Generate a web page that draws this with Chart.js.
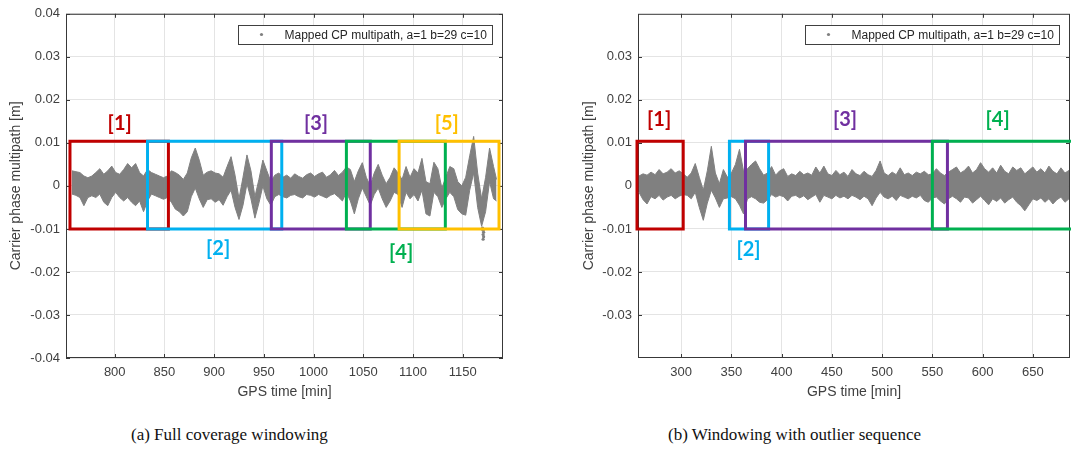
<!DOCTYPE html>
<html>
<head>
<meta charset="utf-8">
<script src="https://cdn.jsdelivr.net/npm/chart.js@4.4.1/dist/chart.umd.min.js"></script>
<style>
  html, body { margin: 0; padding: 0; background: #fff; overflow: hidden; }
  body { width: 1071px; height: 456px; position: relative; }
  canvas { position: absolute; top: 0; }
  #chartA { left: 0; }
  #chartB { left: 540px; }
  .caption {
    position: absolute; top: 425px; white-space: nowrap; color: #111;
    font-family: 'Liberation Serif', 'DejaVu Serif', serif; font-size: 17px;
  }
</style>
</head>
<body>
<canvas id="chartA" width="520" height="410"></canvas>
<canvas id="chartB" width="531" height="410"></canvas>
<div class="caption" style="left:131px">(a) Full coverage windowing</div>
<div class="caption" style="left:668px">(b) Windowing with outlier sequence</div>
<script>
// ---------------------------
// Data (metres / minutes)
// The multipath cloud is kept as its upper and lower edge per sample time.
// ---------------------------

// (a) Full coverage windowing
const timesA = [
  757, 761, 765, 769, 773, 777, 781, 785, 789, 793,
  797, 801, 805, 809, 813, 817, 821, 825, 829, 833,
  837, 841, 845, 849, 853, 857, 861, 865, 869, 873,
  877, 881, 885, 889, 893, 897, 901, 905, 909, 913,
  917, 921, 925, 929, 933, 937, 941, 945, 949, 953,
  957, 961, 965, 969, 973, 977, 981, 985, 989, 993,
  997, 1001, 1005, 1009, 1013, 1017, 1021, 1025, 1029, 1033,
  1037, 1041, 1045, 1049, 1053, 1057, 1061, 1065, 1069, 1073,
  1077, 1081, 1085, 1089, 1093, 1097, 1101, 1105, 1109, 1113,
  1117, 1121, 1125, 1129, 1133, 1137, 1141, 1145, 1149, 1153,
  1157, 1161, 1165, 1169, 1173, 1177, 1181, 1184
];
const upperA = [
  0.0035, 0.0033, 0.0031, 0.0023, 0.0019, 0.0023, 0.0031, 0.0040, 0.0027, 0.0035,
  0.0046, 0.0031, 0.0027, 0.0038, 0.0052, 0.0042, 0.0052, 0.0031, 0.0023, 0.0038,
  0.0031, 0.0027, 0.0023, 0.0019, 0.0023, 0.0035, 0.0031, 0.0025, 0.0015, 0.0030,
  0.0065, 0.0088, 0.0060, 0.0025, 0.0032, 0.0035, 0.0030, 0.0028, 0.0020, 0.0045,
  0.0068, 0.0025, -0.0030, 0.0020, 0.0072, 0.0035, -0.0025, 0.0015, 0.0060, 0.0035,
  0.0010, 0.0025, 0.0030, 0.0020, 0.0025, 0.0018, 0.0028, 0.0022, 0.0018, 0.0026,
  0.0030, 0.0022, 0.0028, 0.0032, 0.0020, 0.0026, 0.0036, 0.0024, 0.0032, 0.0044,
  0.0038, 0.0010, 0.0035, 0.0054, 0.0020, 0.0000, 0.0030, 0.0050, 0.0025, 0.0005,
  0.0020, 0.0042, 0.0030, 0.0015, 0.0045, 0.0020, 0.0040, 0.0030, 0.0064, 0.0010,
  0.0005, 0.0055, 0.0040, -0.0005, 0.0020, 0.0045, 0.0040, 0.0010, 0.0000, 0.0020,
  0.0070, 0.0115, 0.0030, -0.0030, 0.0020, 0.0088, 0.0045, 0.0015
];
const lowerA = [
  -0.0019, -0.0022, -0.0027, -0.0046, -0.0027, -0.0023, -0.0027, -0.0019, -0.0038, -0.0046,
  -0.0027, -0.0015, -0.0027, -0.0035, -0.0027, -0.0038, -0.0046, -0.0035, -0.0060, -0.0035,
  -0.0019, -0.0023, -0.0027, -0.0031, -0.0027, -0.0038, -0.0054, -0.0060, -0.0070, -0.0060,
  -0.0025, -0.0005, -0.0030, -0.0050, -0.0032, -0.0030, -0.0038, -0.0032, -0.0045, -0.0025,
  -0.0010, -0.0050, -0.0078, -0.0045, 0.0005, -0.0030, -0.0075, -0.0040, 0.0000, -0.0030,
  -0.0045, -0.0025, -0.0020, -0.0025, -0.0028, -0.0022, -0.0020, -0.0025, -0.0028, -0.0020,
  -0.0022, -0.0026, -0.0020, -0.0024, -0.0028, -0.0022, -0.0018, -0.0026, -0.0035, -0.0015,
  -0.0035, -0.0065, -0.0030, -0.0005, -0.0025, -0.0045, -0.0020, -0.0005, -0.0030, -0.0050,
  -0.0035, -0.0015, -0.0020, -0.0050, -0.0015, -0.0030, -0.0020, -0.0035, -0.0010, -0.0065,
  -0.0070, -0.0015, -0.0025, -0.0050, -0.0030, -0.0015, -0.0025, -0.0055, -0.0065, -0.0068,
  -0.0010, 0.0030, -0.0050, -0.0094, -0.0060, 0.0010, -0.0030, -0.0035
];
// stray points under the cloud near 1170 min
const outlierTimesA = [1170, 1170.5, 1171, 1170.5, 1171, 1170.5];
const outlierValuesA = [-0.0098, -0.0103, -0.0108, -0.0113, -0.0118, -0.0124];

const xTicksA = [800, 850, 900, 950, 1000, 1050, 1100, 1150];
const yTicksA = [-0.04, -0.03, -0.02, -0.01, 0, 0.01, 0.02, 0.03, 0.04];

const winStartA = [755, 833, 957.5, 1033, 1086];
const winEndA = [854, 968, 1057, 1132.5, 1186.5];
const winLabelsA = ['[1]', '[2]', '[3]', '[4]', '[5]'];
const winLabelXA = [805, 904, 1002.5, 1088, 1134];
const winLabelYA = [0.0146, -0.0146, 0.0146, -0.0155, 0.0146];

// (b) Windowing with outlier sequence
const timesB = [
  258, 262, 266, 270, 274, 278, 282, 286, 290, 294,
  298, 302, 306, 310, 314, 318, 322, 326, 330, 334,
  338, 342, 346, 350, 354, 358, 362, 366, 370, 374,
  378, 382, 386, 390, 394, 398, 402, 406, 410, 414,
  418, 422, 426, 430, 434, 438, 442, 446, 450, 454,
  458, 462, 466, 470, 474, 478, 482, 486, 490, 494,
  498, 502, 506, 510, 514, 518, 522, 526, 530, 534,
  538, 542, 546, 550, 554, 558, 562, 566, 570, 574,
  578, 582, 586, 590, 594, 598, 602, 606, 610, 614,
  618, 622, 626, 630, 634, 638, 642, 646, 650, 654,
  658, 662, 666, 670, 674, 678, 682, 686
];
const upperB = [
  0.0023, 0.0028, 0.0025, 0.0032, 0.0026, 0.0038, 0.0028, 0.0032, 0.0040, 0.0030,
  0.0035, 0.0028, 0.0020, 0.0030, 0.0052, 0.0020, -0.0010, 0.0035, 0.0092, 0.0030,
  0.0005, 0.0038, 0.0020, 0.0030, 0.0050, 0.0085, 0.0035, 0.0040, 0.0050, 0.0058,
  0.0040, 0.0025, 0.0030, 0.0045, 0.0025, 0.0035, 0.0040, 0.0022, 0.0028, 0.0024,
  0.0034, 0.0026, 0.0030, 0.0025, 0.0044, 0.0030, 0.0046, 0.0028, 0.0024, 0.0036,
  0.0026, 0.0032, 0.0022, 0.0038, 0.0028, 0.0024, 0.0034, 0.0026, 0.0022, 0.0036,
  0.0058, 0.0030, 0.0024, 0.0032, 0.0026, 0.0042, 0.0026, 0.0030, 0.0024, 0.0032,
  0.0028, 0.0034, 0.0026, 0.0028, 0.0040, 0.0030, 0.0024, 0.0032, 0.0038, 0.0044,
  0.0030, 0.0036, 0.0046, 0.0030, 0.0038, 0.0054, 0.0040, 0.0032, 0.0042, 0.0030,
  0.0048, 0.0034, 0.0028, 0.0044, 0.0036, 0.0042, 0.0028, 0.0036, 0.0044, 0.0032,
  0.0040, 0.0030, 0.0046, 0.0034, 0.0028, 0.0042, 0.0030, 0.0036
];
const lowerB = [
  -0.0015, -0.0032, -0.0042, -0.0025, -0.0030, -0.0022, -0.0033, -0.0026, -0.0022, -0.0030,
  -0.0024, -0.0020, -0.0022, -0.0030, -0.0015, -0.0050, -0.0080, -0.0040, -0.0010, -0.0028,
  -0.0050, -0.0030, -0.0028, -0.0025, -0.0030, -0.0045, -0.0065, -0.0030, -0.0025, -0.0030,
  -0.0038, -0.0040, -0.0032, -0.0020, -0.0026, -0.0022, -0.0025, -0.0035, -0.0024, -0.0022,
  -0.0028, -0.0023, -0.0032, -0.0026, -0.0020, -0.0038, -0.0022, -0.0026, -0.0030, -0.0022,
  -0.0028, -0.0024, -0.0030, -0.0022, -0.0026, -0.0032, -0.0024, -0.0030, -0.0046, -0.0028,
  -0.0015, -0.0026, -0.0030, -0.0024, -0.0034, -0.0022, -0.0026, -0.0030, -0.0024, -0.0028,
  -0.0022, -0.0034, -0.0038, -0.0028, -0.0026, -0.0035, -0.0042, -0.0030, -0.0024, -0.0030,
  -0.0038, -0.0026, -0.0028, -0.0040, -0.0032, -0.0024, -0.0034, -0.0044, -0.0030, -0.0036,
  -0.0028, -0.0040, -0.0032, -0.0026, -0.0038, -0.0046, -0.0058, -0.0044, -0.0030, -0.0034,
  -0.0028, -0.0038, -0.0030, -0.0042, -0.0032, -0.0026, -0.0038, -0.0030
];

const xTicksB = [300, 350, 400, 450, 500, 550, 600, 650];
const yTicksB = [-0.03, -0.02, -0.01, 0, 0.01, 0.02, 0.03];

const winStartB = [256, 348, 364, 550];
const winEndB = [302, 387, 565, 720];
const winLabelsB = ['[1]', '[2]', '[3]', '[4]'];
const winLabelXB = [278, 367, 463, 615];
const winLabelYB = [0.0155, -0.0148, 0.0155, 0.0155];

// shared window look
const winColors = ['#c00000', '#00b0f0', '#7030a0', '#00b050', '#ffc000'];
const boxLow = -0.0100;
const boxHigh = 0.0104;
const legendText = 'Mapped CP multipath, a=1 b=29 c=10';

// ---------------------------
// Styling
// ---------------------------
const sansFont = "'Liberation Sans', Arial, sans-serif";
const textColor = '#404040';
const gridColor = '#e4e4e4';
const cloudColor = '#808080';

// axes box with inward tick marks, like the MATLAB original
const framePlugin = {
  id: 'frame',
  beforeDatasetsDraw(chart) {
    const { ctx, chartArea: a, scales: { x, y } } = chart;
    ctx.save();
    ctx.strokeStyle = '#383838';
    ctx.lineWidth = 1;
    ctx.strokeRect(a.left + 0.5, a.top + 0.5, a.width - 1, a.height - 1);
    ctx.beginPath();
    x.ticks.forEach(t => {
      const px = Math.round(x.getPixelForValue(t.value)) + 0.5;
      ctx.moveTo(px, a.bottom); ctx.lineTo(px, a.bottom - 4);
      ctx.moveTo(px, a.top); ctx.lineTo(px, a.top + 4);
    });
    y.ticks.forEach(t => {
      const py = Math.round(y.getPixelForValue(t.value)) + 0.5;
      ctx.moveTo(a.left, py); ctx.lineTo(a.left + 4, py);
      ctx.moveTo(a.right, py); ctx.lineTo(a.right - 4, py);
    });
    ctx.stroke();
    ctx.restore();
  }
};

// window numbers and the boxed legend
const annotatePlugin = {
  id: 'annotate',
  afterDatasetsDraw(chart, args, opts) {
    const { ctx, chartArea: a, scales: { x, y } } = chart;
    ctx.save();
    ctx.font = "bold 20px Lato, 'Open Sans', sans-serif";
    ctx.textAlign = 'center';
    ctx.textBaseline = 'middle';
    opts.labels.forEach((txt, i) => {
      ctx.fillStyle = winColors[i];
      ctx.fillText(txt, x.getPixelForValue(opts.labelX[i]), y.getPixelForValue(opts.labelY[i]));
    });

    ctx.font = '12px ' + sansFont;
    ctx.textAlign = 'left';
    const tw = ctx.measureText(legendText).width;
    const w = Math.round(tw + 52);
    const right = Math.round(a.right - 11);
    const left = right - w;
    const top = Math.round(a.top + 11);
    const h = 19;
    ctx.fillStyle = '#fff';
    ctx.fillRect(left, top, w, h);
    ctx.strokeStyle = '#404040';
    ctx.lineWidth = 1;
    ctx.strokeRect(left + 0.5, top + 0.5, w, h);
    ctx.fillStyle = cloudColor;
    ctx.beginPath();
    ctx.arc(left + 23.5, top + h / 2, 1.6, 0, Math.PI * 2);
    ctx.fill();
    ctx.fillStyle = '#262626';
    ctx.fillText(legendText, left + 46.5, top + h / 2 + 1);
    ctx.restore();
  }
};

function boxPoints(start, end) {
  return [
    { x: start, y: boxLow }, { x: start, y: boxHigh },
    { x: end, y: boxHigh }, { x: end, y: boxLow }, { x: start, y: boxLow }
  ];
}

function buildChart(canvasId, cfg) {
  const datasets = [
    {
      data: cfg.times.map((t, i) => ({ x: t, y: cfg.upper[i] })),
      borderColor: cloudColor, backgroundColor: cloudColor, borderWidth: 1,
      pointRadius: 0, tension: 0, fill: '+1', order: 100
    },
    {
      data: cfg.times.map((t, i) => ({ x: t, y: cfg.lower[i] })),
      borderColor: cloudColor, borderWidth: 1,
      pointRadius: 0, tension: 0, fill: false, order: 100
    },
    {
      data: cfg.outT.map((t, i) => ({ x: t, y: cfg.outV[i] })),
      showLine: false, pointRadius: 1.6, pointBorderWidth: 0,
      pointBackgroundColor: cloudColor, order: 99
    }
  ];
  cfg.winStart.forEach((s, i) => {
    datasets.push({
      data: boxPoints(s, cfg.winEnd[i]),
      borderColor: winColors[i], borderWidth: 3, pointRadius: 0, tension: 0,
      fill: false, borderJoinStyle: 'miter', borderCapStyle: 'square',
      clip: 4, order: 10 - i
    });
  });

  return new Chart(document.getElementById(canvasId), {
    type: 'line',
    data: { datasets },
    options: {
      responsive: false,
      animation: false,
      events: [],
      layout: { padding: { left: 0, right: cfg.padRight, top: 12, bottom: 0 } },
      plugins: {
        legend: { display: false },
        tooltip: { enabled: false },
        annotate: { labels: cfg.labels, labelX: cfg.labelX, labelY: cfg.labelY }
      },
      scales: {
        x: {
          type: 'linear', min: cfg.xMin, max: cfg.xMax,
          afterBuildTicks: s => { s.ticks = cfg.xTicks.map(v => ({ value: v })); },
          afterFit: s => { s.height = 52; },
          grid: { color: gridColor, drawTicks: false },
          border: { display: false },
          ticks: {
            color: textColor, font: { family: sansFont, size: 13 }, padding: 7,
            maxRotation: 0, autoSkip: false, callback: v => String(v)
          },
          title: {
            display: true, text: 'GPS time [min]', color: textColor,
            font: { family: sansFont, size: 14 }, padding: { top: 0, bottom: 9 }
          }
        },
        y: {
          type: 'linear', min: -0.04, max: 0.04,
          afterBuildTicks: s => { s.ticks = cfg.yTicks.map(v => ({ value: v })); },
          afterFit: s => { s.width = cfg.yWidth; },
          grid: { color: gridColor, drawTicks: false },
          border: { display: false },
          ticks: {
            color: textColor, font: { family: sansFont, size: 13 }, padding: 6,
            autoSkip: false, callback: v => String(v)
          },
          title: {
            display: true, text: 'Carrier phase multipath [m]', color: textColor,
            font: { family: sansFont, size: 14 }, padding: { top: cfg.yTitlePad, bottom: 0 }
          }
        }
      }
    },
    plugins: [framePlugin, annotatePlugin]
  });
}

buildChart('chartA', {
  times: timesA, upper: upperA, lower: lowerA,
  outT: outlierTimesA, outV: outlierValuesA,
  xMin: 751, xMax: 1190.5, xTicks: xTicksA, yTicks: yTicksA,
  winStart: winStartA, winEnd: winEndA,
  labels: winLabelsA, labelX: winLabelXA, labelY: winLabelYA,
  yWidth: 66, yTitlePad: 7.6, padRight: 17
});

buildChart('chartB', {
  times: timesB, upper: upperB, lower: lowerB,
  outT: [], outV: [],
  xMin: 257, xMax: 687, xTicks: xTicksB, yTicks: yTicksB,
  winStart: winStartB, winEnd: winEndB,
  labels: winLabelsB, labelX: winLabelXB, labelY: winLabelYB,
  yWidth: 98, yTitlePad: 40.6, padRight: 1
});
</script>
</body>
</html>
